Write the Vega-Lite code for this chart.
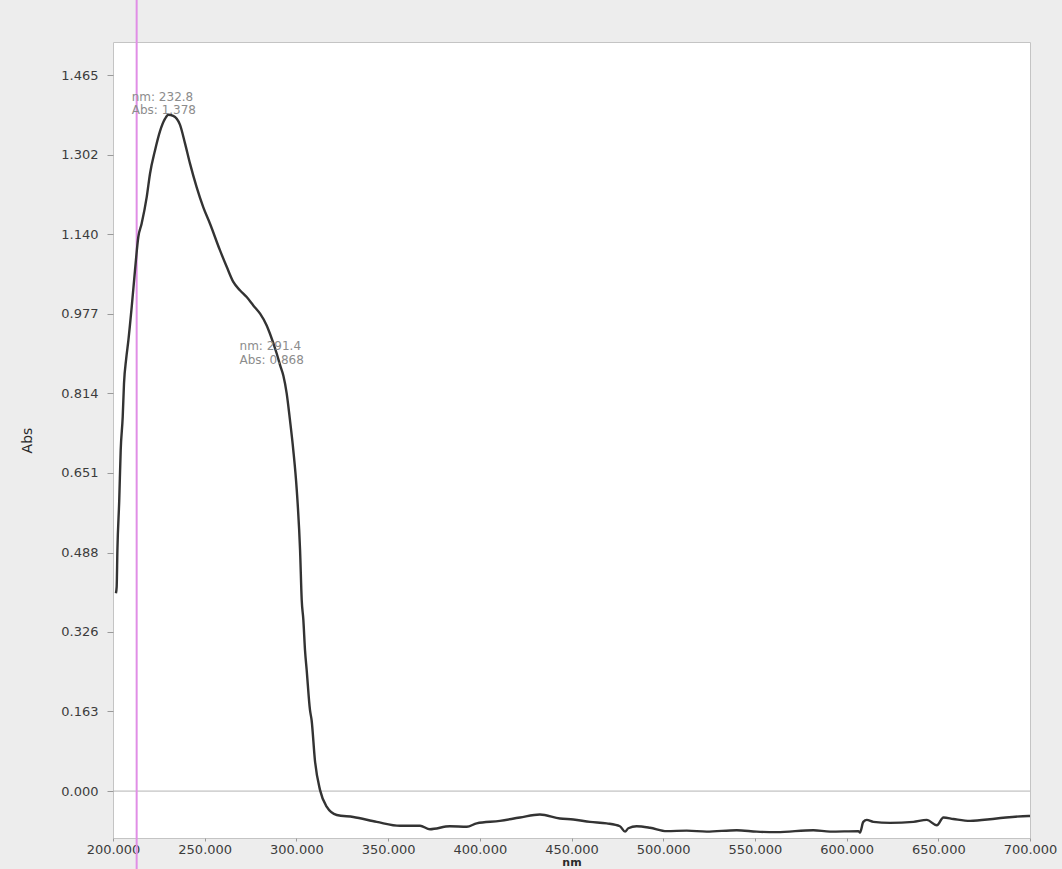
{
  "$schema": "https://vega.github.io/schema/vega-lite/v6.json",
  "width": 917,
  "height": 796,
  "autosize": {"type": "none"},
  "padding": {"left": 113, "top": 42, "right": 32, "bottom": 31},
  "background": "#ededed",
  "config": {
    "view": {"fill": "#ffffff", "stroke": "#c4c4c4", "strokeWidth": 1},
    "font": "DejaVu Sans",
    "axis": {"grid": false, "domain": false, "labelFont": "DejaVu Sans", "titleFont": "DejaVu Sans", "labelColor": "#3c3c3c", "titleColor": "#2a2a2a", "tickColor": "#9a9a9a"}
  },
  "datasets": {
    "spectrum": [
      {"nm": 201.6, "abs": 0.405},
      {"nm": 202.0, "abs": 0.418},
      {"nm": 202.4, "abs": 0.493},
      {"nm": 203.4, "abs": 0.595},
      {"nm": 204.2, "abs": 0.698},
      {"nm": 205.3, "abs": 0.766},
      {"nm": 206.0, "abs": 0.834},
      {"nm": 207.2, "abs": 0.885},
      {"nm": 208.4, "abs": 0.923},
      {"nm": 210.2, "abs": 0.991},
      {"nm": 212.0, "abs": 1.066},
      {"nm": 213.8, "abs": 1.134},
      {"nm": 215.6, "abs": 1.161},
      {"nm": 218.4, "abs": 1.216},
      {"nm": 220.2, "abs": 1.264},
      {"nm": 222.9, "abs": 1.311},
      {"nm": 225.6, "abs": 1.350},
      {"nm": 228.4, "abs": 1.376},
      {"nm": 230.2, "abs": 1.384},
      {"nm": 232.8, "abs": 1.382},
      {"nm": 236.5, "abs": 1.364},
      {"nm": 239.3, "abs": 1.325},
      {"nm": 242.0, "abs": 1.284},
      {"nm": 245.6, "abs": 1.236},
      {"nm": 249.2, "abs": 1.195},
      {"nm": 252.9, "abs": 1.161},
      {"nm": 258.3, "abs": 1.107},
      {"nm": 262.0, "abs": 1.073},
      {"nm": 265.6, "abs": 1.042},
      {"nm": 269.2, "abs": 1.025},
      {"nm": 272.9, "abs": 1.011},
      {"nm": 276.5, "abs": 0.994},
      {"nm": 280.2, "abs": 0.977},
      {"nm": 283.8, "abs": 0.953},
      {"nm": 285.6, "abs": 0.936},
      {"nm": 289.3, "abs": 0.895},
      {"nm": 291.4, "abs": 0.868},
      {"nm": 292.9, "abs": 0.850},
      {"nm": 294.7, "abs": 0.814},
      {"nm": 296.5, "abs": 0.759},
      {"nm": 298.3, "abs": 0.698},
      {"nm": 300.2, "abs": 0.616},
      {"nm": 302.0, "abs": 0.493},
      {"nm": 302.9, "abs": 0.391},
      {"nm": 303.8, "abs": 0.350},
      {"nm": 304.7, "abs": 0.288},
      {"nm": 305.6, "abs": 0.248},
      {"nm": 307.4, "abs": 0.166},
      {"nm": 308.3, "abs": 0.145},
      {"nm": 310.1, "abs": 0.063},
      {"nm": 312.9, "abs": 0.002},
      {"nm": 316.5, "abs": -0.032},
      {"nm": 322.0, "abs": -0.049},
      {"nm": 331.0, "abs": -0.053},
      {"nm": 343.8, "abs": -0.063},
      {"nm": 356.5, "abs": -0.071},
      {"nm": 367.4, "abs": -0.071},
      {"nm": 372.8, "abs": -0.078},
      {"nm": 383.7, "abs": -0.072},
      {"nm": 392.9, "abs": -0.073},
      {"nm": 398.3, "abs": -0.066},
      {"nm": 411.0, "abs": -0.061},
      {"nm": 421.9, "abs": -0.054},
      {"nm": 432.8, "abs": -0.048},
      {"nm": 443.7, "abs": -0.056},
      {"nm": 451.0, "abs": -0.058},
      {"nm": 460.1, "abs": -0.063},
      {"nm": 469.2, "abs": -0.066},
      {"nm": 476.4, "abs": -0.072},
      {"nm": 479.2, "abs": -0.083},
      {"nm": 481.0, "abs": -0.076},
      {"nm": 485.5, "abs": -0.072},
      {"nm": 492.8, "abs": -0.075},
      {"nm": 501.9, "abs": -0.082},
      {"nm": 512.8, "abs": -0.081},
      {"nm": 523.7, "abs": -0.083},
      {"nm": 540.1, "abs": -0.080},
      {"nm": 551.0, "abs": -0.083},
      {"nm": 561.9, "abs": -0.084},
      {"nm": 581.9, "abs": -0.080},
      {"nm": 591.0, "abs": -0.083},
      {"nm": 606.4, "abs": -0.082},
      {"nm": 607.3, "abs": -0.085},
      {"nm": 609.1, "abs": -0.063},
      {"nm": 611.0, "abs": -0.059},
      {"nm": 614.6, "abs": -0.063},
      {"nm": 623.7, "abs": -0.065},
      {"nm": 636.4, "abs": -0.063},
      {"nm": 643.7, "abs": -0.059},
      {"nm": 649.2, "abs": -0.070},
      {"nm": 652.8, "abs": -0.054},
      {"nm": 658.2, "abs": -0.057},
      {"nm": 667.3, "abs": -0.061},
      {"nm": 681.8, "abs": -0.056},
      {"nm": 699.1, "abs": -0.051},
      {"nm": 700.0, "abs": -0.051}
    ],
    "labels": [
      {"nm": 210.2, "abs": 1.421, "label": "nm: 232.8"},
      {"nm": 210.2, "abs": 1.394, "label": "Abs: 1.378"},
      {"nm": 269.0, "abs": 0.910, "label": "nm: 291.4"},
      {"nm": 269.0, "abs": 0.883, "label": "Abs: 0.868"}
    ],
    "zero": [{"abs": 0}],
    "cursor": [{"nm": 212.9, "top": 1.7, "bottom": -0.2}]
  },
  "encoding": {
    "x": {
      "field": "nm", "type": "quantitative",
      "scale": {"domain": [200, 700], "nice": false, "zero": false},
      "axis": {"values": [200, 250, 300, 350, 400, 450, 500, 550, 600, 650, 700], "format": ".3f", "title": "nm", "labelFontSize": 13, "tickSize": 3, "labelPadding": 2, "titleFontSize": 11, "titleFontWeight": "bold", "titlePadding": 0, "labelFlush": false}
    },
    "y": {
      "field": "abs", "type": "quantitative",
      "scale": {"domain": [-0.096, 1.533], "nice": false, "zero": false},
      "axis": {"values": [0, 0.163, 0.326, 0.488, 0.651, 0.814, 0.977, 1.14, 1.302, 1.465], "format": ".3f", "title": "Abs", "labelFontSize": 13, "tickSize": 6, "labelPadding": 9, "titleFontSize": 14, "titleFontWeight": "normal", "titleX": -86, "titleY": 398, "titleBaseline": "middle", "titleAngle": -90}
    }
  },
  "layer": [
    {
      "data": {"name": "zero"},
      "mark": {"type": "rule", "color": "#b4b4b4", "strokeWidth": 1},
      "encoding": {"x": null, "y": {"field": "abs", "type": "quantitative"}}
    },
    {
      "data": {"name": "cursor"},
      "mark": {"type": "rule", "color": "#e08ee6", "strokeWidth": 2, "clip": false},
      "encoding": {
        "y": {"field": "top", "type": "quantitative"},
        "y2": {"field": "bottom"}
      }
    },
    {
      "data": {"name": "spectrum"},
      "mark": {"type": "line", "color": "#333333", "strokeWidth": 2.4, "interpolate": "monotone"}
    },
    {
      "data": {"name": "labels"},
      "mark": {"type": "text", "align": "left", "baseline": "middle", "fontSize": 12, "color": "#8c8c8c", "font": "DejaVu Sans"},
      "encoding": {"text": {"field": "label"}}
    }
  ]
}
